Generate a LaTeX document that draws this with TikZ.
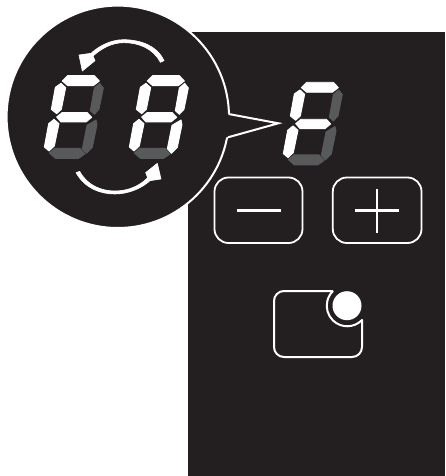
\documentclass[tikz,border=0pt]{standalone}
\definecolor{panel}{HTML}{231F20}
\definecolor{seggray}{HTML}{58595B}
\tikzset{
  ringline/.style={draw=white,line width=2pt,line join=miter},
  btn/.style={draw=white,line width=1.8pt,rounded corners=14pt},
  bar/.style={draw=white,line width=3pt},
  seg/.style={fill=#1,draw=#1,line width=0.9pt,line join=round},
  arrowshape/.style={fill=white,draw=white,line width=0.6pt,line join=round}
}
% #1 dx, #2 dy, #3 UR colour, #4 LR colour, #5 bottom colour
\newcommand{\segdigit}[5]{%
\begin{scope}[shift={(#1,#2)},x=0.33333pt,y=-0.33333pt]
  \path[seg=white] (187,183)--(203,167)--(283,167)--(298,183)--(280,197)--(203,197)--cycle;
  \path[seg=white] (183,190)--(197,203)--(184,268)--(170,281)--(154,268)--(166,202)--cycle;
  \path[seg=#3] (299,190)--(310,204)--(297,268)--(283,283)--(271,272)--(283,204)--cycle;
  \path[seg=white] (170,291)--(186,278)--(262,278)--(275,292)--(258,306)--(183,306)--cycle;
  \path[seg=white] (162,298)--(177,311)--(163,378)--(147,393)--(133,381)--(146,311)--cycle;
  \path[seg=#4] (288,300)--(291,314)--(277,382)--(259,400)--(247,386)--(261,316)--cycle;
  \path[seg=#5] (148,399)--(165,385)--(240,385)--(255,402)--(236,415)--(166,415)--cycle;
\end{scope}}
\begin{document}
\begin{tikzpicture}[x=1pt,y=-1pt]
\useasboundingbox (0,0) rectangle (445,476);
\fill[white] (0,0) rectangle (445,476);
\fill[panel] (188,32) rectangle (445,476);
% bubble
\filldraw[fill=panel,draw=white,line width=2pt] (117.8,116.8) circle[radius=111.2];
\fill[panel] (224,113) -- (278.3,123.3) -- (224,138) -- cycle;
\draw[ringline] (228.6,114) -- (278.3,123.3) -- (228,137.3);
% digits
\segdigit{0}{20}{seggray}{seggray}{seggray}
\segdigit{85}{20}{white}{white}{seggray}
\segdigit{239}{26.6}{seggray}{seggray}{seggray}
% rotation arrows
\begin{scope}[shift={(0,20)},x=0.33333pt,y=-0.33333pt]
  \path[arrowshape] (492,122) .. controls (470,75) and (420,60) .. (372,59)
     .. controls (330,59) and (295,80) .. (273,100)
     -- (237,105) -- (247,153) -- (285,122) -- (279,108)
     .. controls (305,85) and (335,68) .. (372,68)
     .. controls (415,68) and (460,85) .. (481,127) -- cycle;
  \path[arrowshape] (228,458) .. controls (255,505) and (300,522) .. (345,522)
     .. controls (385,522) and (425,505) .. (450,482)
     -- (483,477) -- (472,430) -- (437,458) -- (443,473)
     .. controls (420,497) and (385,513) .. (345,513)
     .. controls (305,513) and (262,497) .. (239,454) -- cycle;
\end{scope}
% buttons
\draw[btn] (214.5,177.5) rectangle (302.5,243);
\draw[btn] (332.8,177.5) rectangle (421.5,243);
\draw[bar] (236.7,210.5) -- (281,210.5);
\draw[bar] (355,210.5) -- (399,210.5);
\draw[bar,line width=2.8pt] (377,189) -- (377,232.7);
% power button
\draw[draw=white,line width=2pt,line join=round]
  (333,291) -- (284,291) arc[start angle=270,end angle=180,radius=10]
  -- (274,347) arc[start angle=180,end angle=90,radius=10]
  -- (352,357) arc[start angle=90,end angle=0,radius=10]
  -- (362,320) arc[start angle=44,end angle=226,radius=20.5];
\fill[white] (347,305.7) circle[radius=14.5];
\end{tikzpicture}
\end{document}
